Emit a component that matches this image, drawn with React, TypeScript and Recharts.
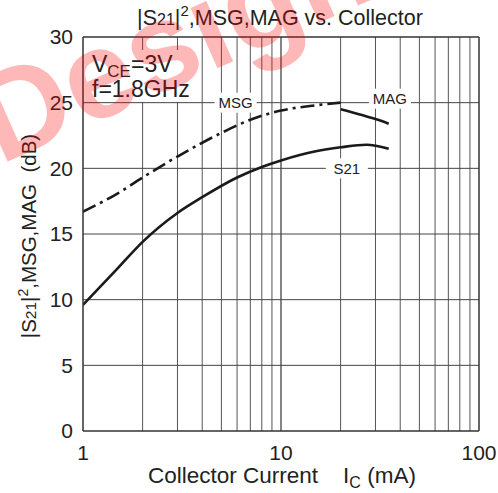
import React from "react";
import {
  LineChart,
  Line,
  XAxis,
  YAxis,
  ReferenceLine,
  ReferenceDot,
} from "recharts";

// collector current (mA) / gain (dB)
const s21Current = [1, 1.5, 2, 3, 4, 6, 8, 10, 15, 20, 27, 35];
const s21Gain = [9.6, 12.4, 14.4, 16.6, 17.8, 19.3, 20.1, 20.6, 21.3, 21.6, 21.8, 21.5];
const msgCurrent = [1, 1.5, 2, 3, 5, 7, 10, 15, 20];
const msgGain = [16.7, 18.1, 19.3, 20.9, 22.7, 23.7, 24.4, 24.8, 25.0];
const magCurrent = [20, 25, 30, 35];
const magGain = [24.5, 24.1, 23.75, 23.4];

const xTicks = [1, 10, 100];
const yTicks = [0, 5, 10, 15, 20, 25, 30];
const xMinorGrid = [2, 3, 4, 5, 6, 7, 8, 9, 20, 30, 40, 50, 60, 70, 80, 90];
const yGrid = [5, 10, 15, 20, 25];

const curveLabels = [
  { x: 5.9, y: 25, text: "MSG", lift: 0 },
  { x: 35.5, y: 25, text: "MAG", lift: -4 },
  { x: 21.5, y: 20, text: "S21", lift: 0 },
];

const toRows = (xs: number[], ys: number[]) => xs.map((x, i) => ({ x, y: ys[i] }));

const FONT = "'Liberation Sans', Arial, sans-serif";
const INK = "#1a1a1a";

function CurveTag({ cx, cy, text, lift }: any) {
  const w = text.length * 10 + 12;
  return (
    <g>
      <rect x={cx - w / 2} y={cy + lift - 10} width={w} height={20} fill="#fff" />
      <text
        x={cx}
        y={cy + lift}
        dy="0.36em"
        textAnchor="middle"
        fontSize={15}
        fontFamily={FONT}
        fill="#222"
      >
        {text}
      </text>
    </g>
  );
}

export default function App() {
  const s21 = toRows(s21Current, s21Gain);
  const msg = toRows(msgCurrent, msgGain);
  const mag = toRows(magCurrent, magGain);

  return (
    <div style={{ position: "absolute", left: 0, top: 0, width: 498, height: 493, background: "#fff" }}>
      <LineChart
        width={498}
        height={493}
        margin={{ top: 37, right: 19, bottom: 32, left: 43 }}
        style={{ fontFamily: FONT }}
      >
        <XAxis
          type="number"
          dataKey="x"
          scale="log"
          domain={[1, 100]}
          ticks={xTicks}
          allowDataOverflow
          height={30}
          tickLine={false}
          tickSize={0}
          tickMargin={14}
          axisLine={{ stroke: "#333", strokeWidth: 1.5 }}
          tick={{ fontSize: 21, fill: "#222", fontFamily: FONT }}
        />
        <YAxis
          type="number"
          dataKey="y"
          domain={[0, 30]}
          ticks={yTicks}
          width={40}
          tickLine={false}
          tickSize={0}
          tickMargin={10}
          axisLine={{ stroke: "#333", strokeWidth: 1.5 }}
          tick={{ fontSize: 21, fill: "#222", fontFamily: FONT }}
        />
        {xMinorGrid.map((v) => (
          <ReferenceLine key={"gx" + v} x={v} stroke="#555" strokeWidth={1} />
        ))}
        <ReferenceLine x={10} stroke="#333" strokeWidth={1.2} />
        {yGrid.map((v) => (
          <ReferenceLine key={"gy" + v} y={v} stroke="#444" strokeWidth={1} />
        ))}
        <ReferenceLine x={100} stroke="#333" strokeWidth={1.5} />
        <ReferenceLine y={30} stroke="#333" strokeWidth={1.5} />
        {curveLabels.map((l) => (
          <ReferenceDot
            key={l.text}
            x={l.x}
            y={l.y}
            r={0}
            shape={(p: any) => <CurveTag cx={p.cx} cy={p.cy} text={l.text} lift={l.lift} />}
          />
        ))}
        <Line
          data={msg}
          dataKey="y"
          type="monotone"
          stroke={INK}
          strokeWidth={2.6}
          strokeDasharray="14 5 3 5"
          dot={false}
          isAnimationActive={false}
        />
        <Line
          data={mag}
          dataKey="y"
          type="monotone"
          stroke={INK}
          strokeWidth={2.6}
          dot={false}
          isAnimationActive={false}
        />
        <Line
          data={s21}
          dataKey="y"
          type="monotone"
          stroke={INK}
          strokeWidth={2.6}
          dot={false}
          isAnimationActive={false}
        />
      </LineChart>

      <svg
        width={498}
        height={493}
        style={{ position: "absolute", left: 0, top: 0, pointerEvents: "none" }}
        fontFamily={FONT}
      >
        {/* conditions box */}
        <rect x={88} y={50} width={110} height={52} fill="#fff" />
        <text x={92} y={72} fontSize={23} fill="#222">
          V
          <tspan fontSize={17} dy={5}>CE</tspan>
          <tspan dy={-5}>=3V</tspan>
        </text>
        <text x={92} y={97} fontSize={23} fill="#222">
          f=1.8GHz
        </text>

        {/* title */}
        <text x={280} y={25} textAnchor="middle" fontSize={21.5} fill="#222">
          |S<tspan fontSize={16}>21</tspan>|<tspan fontSize={15} dy={-9}>2</tspan>
          <tspan dy={9}>,MSG,MAG vs. Collector</tspan>
        </text>

        {/* y label */}
        <text
          transform="translate(36,236) rotate(-90)"
          textAnchor="middle"
          fontSize={20.5}
          fill="#222"
        >
          |S<tspan fontSize={15.5}>21</tspan>|<tspan fontSize={14} dy={-8}>2</tspan>
          <tspan dy={8}>,MSG,MAG{"\u00a0\u00a0"}(dB)</tspan>
        </text>

        {/* x label */}
        <text x={148} y={483} fontSize={22.5} fill="#222">
          Collector Current{"\u00a0\u00a0\u00a0\u00a0"}I
          <tspan fontSize={16} dy={5}>C</tspan>
          <tspan dy={-5}>{"\u00a0"}(mA)</tspan>
        </text>

        {/* watermark */}
        <text
          transform="translate(0,165) rotate(-24)"
          fontSize={125}
          fontWeight="bold"
          fill="#ff0000"
          fillOpacity={0.28}
        >
          Design
        </text>
      </svg>
    </div>
  );
}
